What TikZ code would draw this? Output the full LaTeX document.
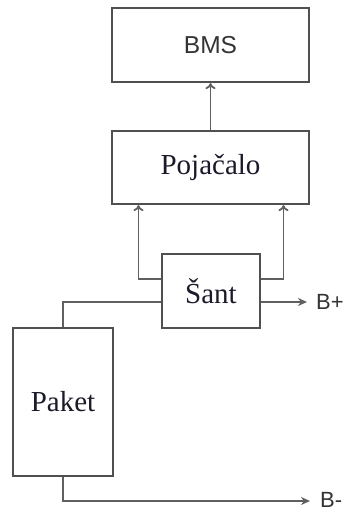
\documentclass[tikz,border=0pt]{standalone}
\usepackage{fontspec}
\setmainfont{Liberation Serif}
\newfontfamily\arialf{Liberation Sans}
\usetikzlibrary{arrows.meta,calc}
\definecolor{boxc}{HTML}{505050}
\definecolor{wirec}{HTML}{606060}
\definecolor{txtc}{HTML}{1A1A2A}
\begin{document}
\begin{tikzpicture}[x=1pt,y=-1pt,
  blockbox/.style={draw=boxc,line width=2.2pt,fill=white,rectangle,inner sep=0pt,font=\fontsize{29}{32}\selectfont,text=txtc},
  wire/.style={draw=wirec,line width=1.8pt},
  uparr/.style={wire,-{To[length=6pt,width=10pt,line width=1.8pt]}},
  rarr/.style={wire,-{Stealth[length=9pt,width=8pt]}},
  termlbl/.style={font=\arialf\fontsize{22}{24}\selectfont,text=black!80,anchor=west,inner sep=0pt}]
\useasboundingbox (0,0) rectangle (346,512);
\node[blockbox,minimum width=197pt,minimum height=74pt,font=\arialf\fontsize{24.5}{27}\selectfont,text=black!80] (bms) at (210.5,45) {BMS};
\node[blockbox,minimum width=197pt,minimum height=73pt] (poj) at (210.5,167.5) {Pojačalo};
\node[blockbox,minimum width=98pt,minimum height=74pt] (sant) at (211,291) {Šant};
\node[blockbox,minimum width=100pt,minimum height=148pt] (paket) at (63,402) {Paket};
\coordinate (bp) at (307,302);
\coordinate (bm) at (310,501);
\node[termlbl] (bplbl) at (316,302) {B+};
\node[termlbl] (bmlbl) at (320,500) {B-};
\draw[uparr] (poj.north) -- (bms.south);
\draw[uparr] ([yshift=12pt]sant.west) -| ([xshift=-72pt]poj.south);
\draw[uparr] ([yshift=12pt]sant.east) -| ([xshift=73pt]poj.south);
\draw[wire] ([yshift=-11pt]sant.west) -| (paket.north);
\draw[rarr] ([yshift=-11pt]sant.east) -- (bp);
\draw[rarr] (paket.south) |- (bm);
\end{tikzpicture}
\end{document}
